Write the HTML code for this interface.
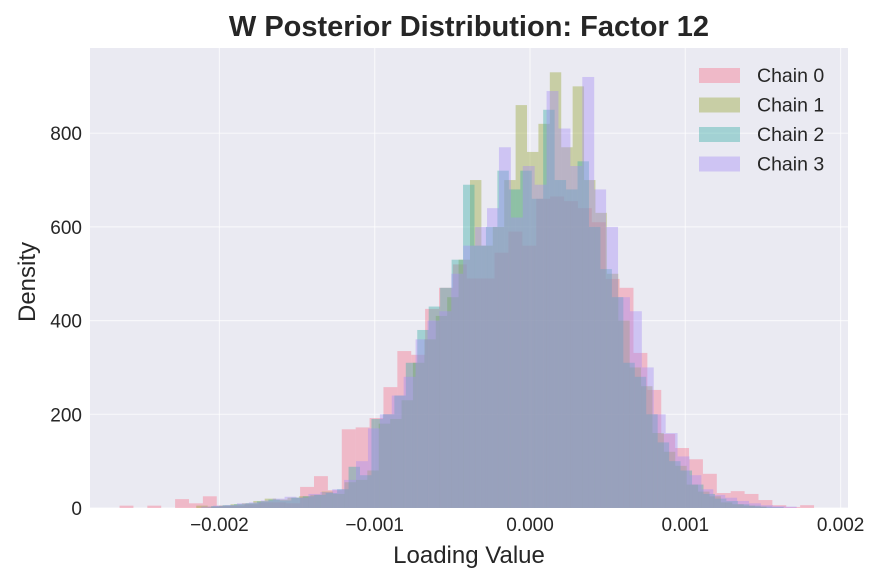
<!DOCTYPE html>
<html><head><meta charset="utf-8">
<style>
body{margin:0;background:#fff;}
svg text{font-family:"Liberation Sans",sans-serif;fill:#262626;}
</style></head>
<body>
<svg id="chart" width="881" height="582" xmlns="http://www.w3.org/2000/svg">
<rect x="0" y="0" width="881" height="582" fill="#fff"/>
<rect x="90" y="48" width="758" height="460" fill="#eaeaf2"/>
<g id="grid"></g>
<g id="bars"></g>
<g id="axes"></g>
<text x="469" y="36" text-anchor="middle" font-size="29" font-weight="bold">W Posterior Distribution: Factor 12</text>
<text x="469" y="563" text-anchor="middle" font-size="24">Loading Value</text>
<text transform="translate(35,282) rotate(-90)" text-anchor="middle" font-size="24">Density</text>
<g id="legend"></g>
</svg>
<script>
const chainNames = ["Chain 0","Chain 1","Chain 2","Chain 3"];
const chainRanges = [[-0.002643,0.001829],[-0.002149,0.001523],[-0.002053,0.001633],[-0.002117,0.001717]];
const chain0 = [5,0,5,0,19,10,25,5,5,8,12,12,10,45,68,38,168,172,192,258,335,327,425,470,520,490,490,545,590,560,660,665,655,640,610,489,470,331,252,158,128,104,73,32,36,30,17,6,2,6];
const chain1 = [5,3,5,8,10,15,20,18,22,25,28,35,30,55,60,80,180,190,230,310,360,410,450,530,700,560,600,700,860,760,820,930,770,900,700,630,500,400,300,260,160,120,90,50,35,25,12,8,5,3];
const chain2 = [4,6,8,10,14,18,16,22,25,28,32,40,88,70,190,200,240,310,380,430,470,530,690,560,600,720,680,720,660,850,700,680,740,600,510,450,310,280,200,140,100,80,50,30,20,15,8,5,3,2];
const chain3 = [3,5,6,10,12,16,20,24,22,30,34,40,60,100,170,200,240,280,360,400,420,500,560,600,640,770,620,730,690,890,810,730,920,680,600,450,420,300,200,160,110,70,40,28,22,15,10,6,4,3];
const chainValues = [chain0,chain1,chain2,chain3];
const chainColors = ["#f77189","#97a431","#36ada4","#a48cf4"];
const xTicks = [-0.002,-0.001,0,0.001,0.002];
const xTickLabels = ["\u22120.002","\u22120.001","0.000","0.001","0.002"];
const yTicks = [0,200,400,600,800];

const NS="http://www.w3.org/2000/svg";
function xs(v){return 530+v*155300;}
function ys(v){return 508-v*0.4685;}
function mk(tag,attrs,parent){const e=document.createElementNS(NS,tag);for(const k in attrs)e.setAttribute(k,attrs[k]);parent.appendChild(e);return e;}
const grid=document.getElementById('grid'),bars=document.getElementById('bars'),axes=document.getElementById('axes'),legend=document.getElementById('legend');
xTicks.forEach((t,i)=>{
  const l=mk('line',{x1:xs(t),x2:xs(t),y1:48,y2:508,stroke:'#fff','stroke-width':1.2,'stroke-opacity':0.6},grid);
  
  
  const tx=mk('text',{x:xs(t),y:531,'text-anchor':'middle','font-size':19},axes);
  tx.textContent=xTickLabels[i];
  
  
});
yTicks.forEach(t=>{
  const l=mk('line',{x1:90,x2:848,y1:ys(t),y2:ys(t),stroke:'#fff','stroke-width':1.2,'stroke-opacity':0.6},grid);
  
  
  const tx=mk('text',{x:82,y:ys(t)+7,'text-anchor':'end','font-size':19},axes);
  tx.textContent=String(t);
  
  
});
chainValues.forEach((vals,c)=>{
  const g=mk('g',{},bars);
  
  
  const [a,b]=chainRanges[c];const w=(b-a)/vals.length;
  vals.forEach((v,i)=>{
    const x0=xs(a+i*w),x1=xs(a+(i+1)*w);
    const r=mk('rect',{x:x0,y:ys(v),width:x1-x0,height:ys(0)-ys(v),fill:chainColors[c],'fill-opacity':0.4},g);
    
    
  });
});
chainNames.forEach((n,i)=>{
  const y=75+i*29.5;
  const r=mk('rect',{x:699,y:y-7,width:41,height:15,fill:chainColors[i],'fill-opacity':0.4},legend);
  
  
  const t=mk('text',{x:757,y:y+7,'font-size':19.5},legend);
  t.textContent=n;
  
  
});
</script>
</body></html>
